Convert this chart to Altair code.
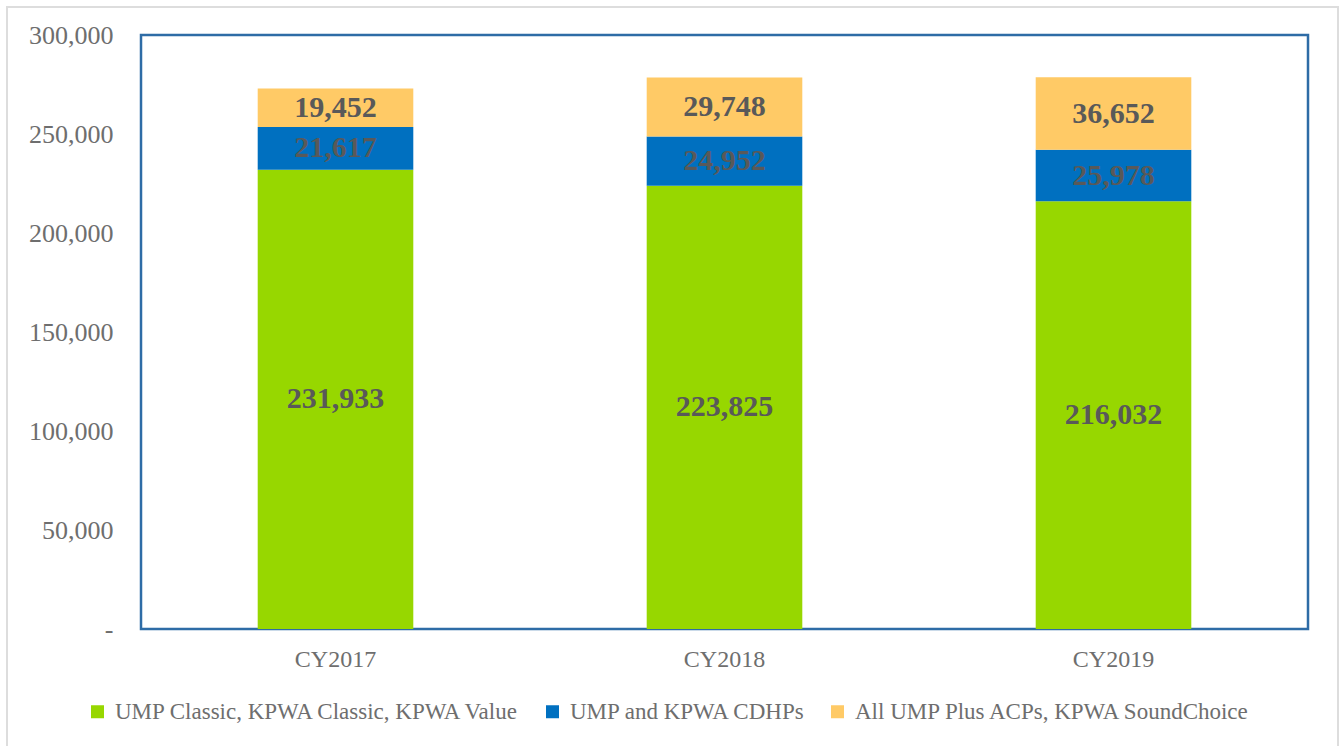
import altair as alt
import pandas as pd

years = ["CY2017", "CY2018", "CY2019"]
series = [
    "UMP Classic, KPWA Classic, KPWA Value",
    "UMP and KPWA CDHPs",
    "All UMP Plus ACPs, KPWA SoundChoice",
]
classic = [231933, 223825, 216032]
cdhp = [21617, 24952, 25978]
plus = [19452, 29748, 36652]
colors = ["#97D700", "#0070C0", "#FFCA66"]

rows = []
for i, y in enumerate(years):
    base = 0
    for k, (s, vals) in enumerate(zip(series, [classic, cdhp, plus])):
        v = vals[i]
        rows.append({"year": y, "series": s, "order": k, "value": v,
                     "start": base, "end": base + v, "mid": base + v / 2})
        base += v
df = pd.DataFrame(rows)

FONT = "Liberation Serif"

x_enc = alt.X("year:N", sort=years, title=None,
              scale=alt.Scale(paddingInner=0.6, paddingOuter=0.3),
              axis=alt.Axis(labelAngle=0, ticks=False, domain=False,
                            labelFontSize=24, labelFont=FONT,
                            labelColor="#6E6E6E", labelPadding=18))

bars = alt.Chart(df).mark_bar().encode(
    x=x_enc,
    y=alt.Y("start:Q", title=None,
            scale=alt.Scale(domain=[0, 300000], nice=False),
            axis=alt.Axis(values=[0, 50000, 100000, 150000, 200000, 250000, 300000],
                          labelExpr="datum.value == 0 ? '-' : format(datum.value, ',')",
                          grid=False, ticks=False, domain=False,
                          labelFontSize=26, labelFont=FONT,
                          labelColor="#6E6E6E", labelPadding=28)),
    y2="end:Q",
    color=alt.Color("series:N", sort=series,
                    scale=alt.Scale(domain=series, range=colors),
                    legend=alt.Legend(title=None, orient="none",
                                      legendX=-55, legendY=665,
                                      direction="horizontal", columns=3,
                                      symbolType="square", symbolSize=169,
                                      symbolStrokeWidth=0,
                                      labelFontSize=23, labelFont=FONT,
                                      labelColor="#6E6E6E", labelLimit=600,
                                      labelOffset=6, columnPadding=20)),
    order=alt.Order("order:Q"),
)

labels = alt.Chart(df).mark_text(
    font=FONT, fontSize=30, fontWeight="bold", color="#595959",
    baseline="middle", align="center"
).encode(
    x=alt.X("year:N", sort=years),
    y=alt.Y("mid:Q"),
    text=alt.Text("value:Q", format=","),
)

frame = alt.Chart(pd.DataFrame({"a": [0]})).mark_rect(
    fill=None, stroke="#DDDDDD", strokeWidth=2
).encode(x=alt.value(-134), x2=alt.value(1197), y=alt.value(-28), y2=alt.value(720))

chart = alt.layer(frame, bars, labels).properties(
    width=1167, height=594,
    autosize=alt.AutoSizeParams(type="none"),
    padding={"left": 141, "top": 35, "right": 36, "bottom": 117},
    background="white",
).configure_view(stroke="#2E6CA6", strokeWidth=2.5)

chart.save("out.html", embed_options={"renderer": "svg", "actions": False})
